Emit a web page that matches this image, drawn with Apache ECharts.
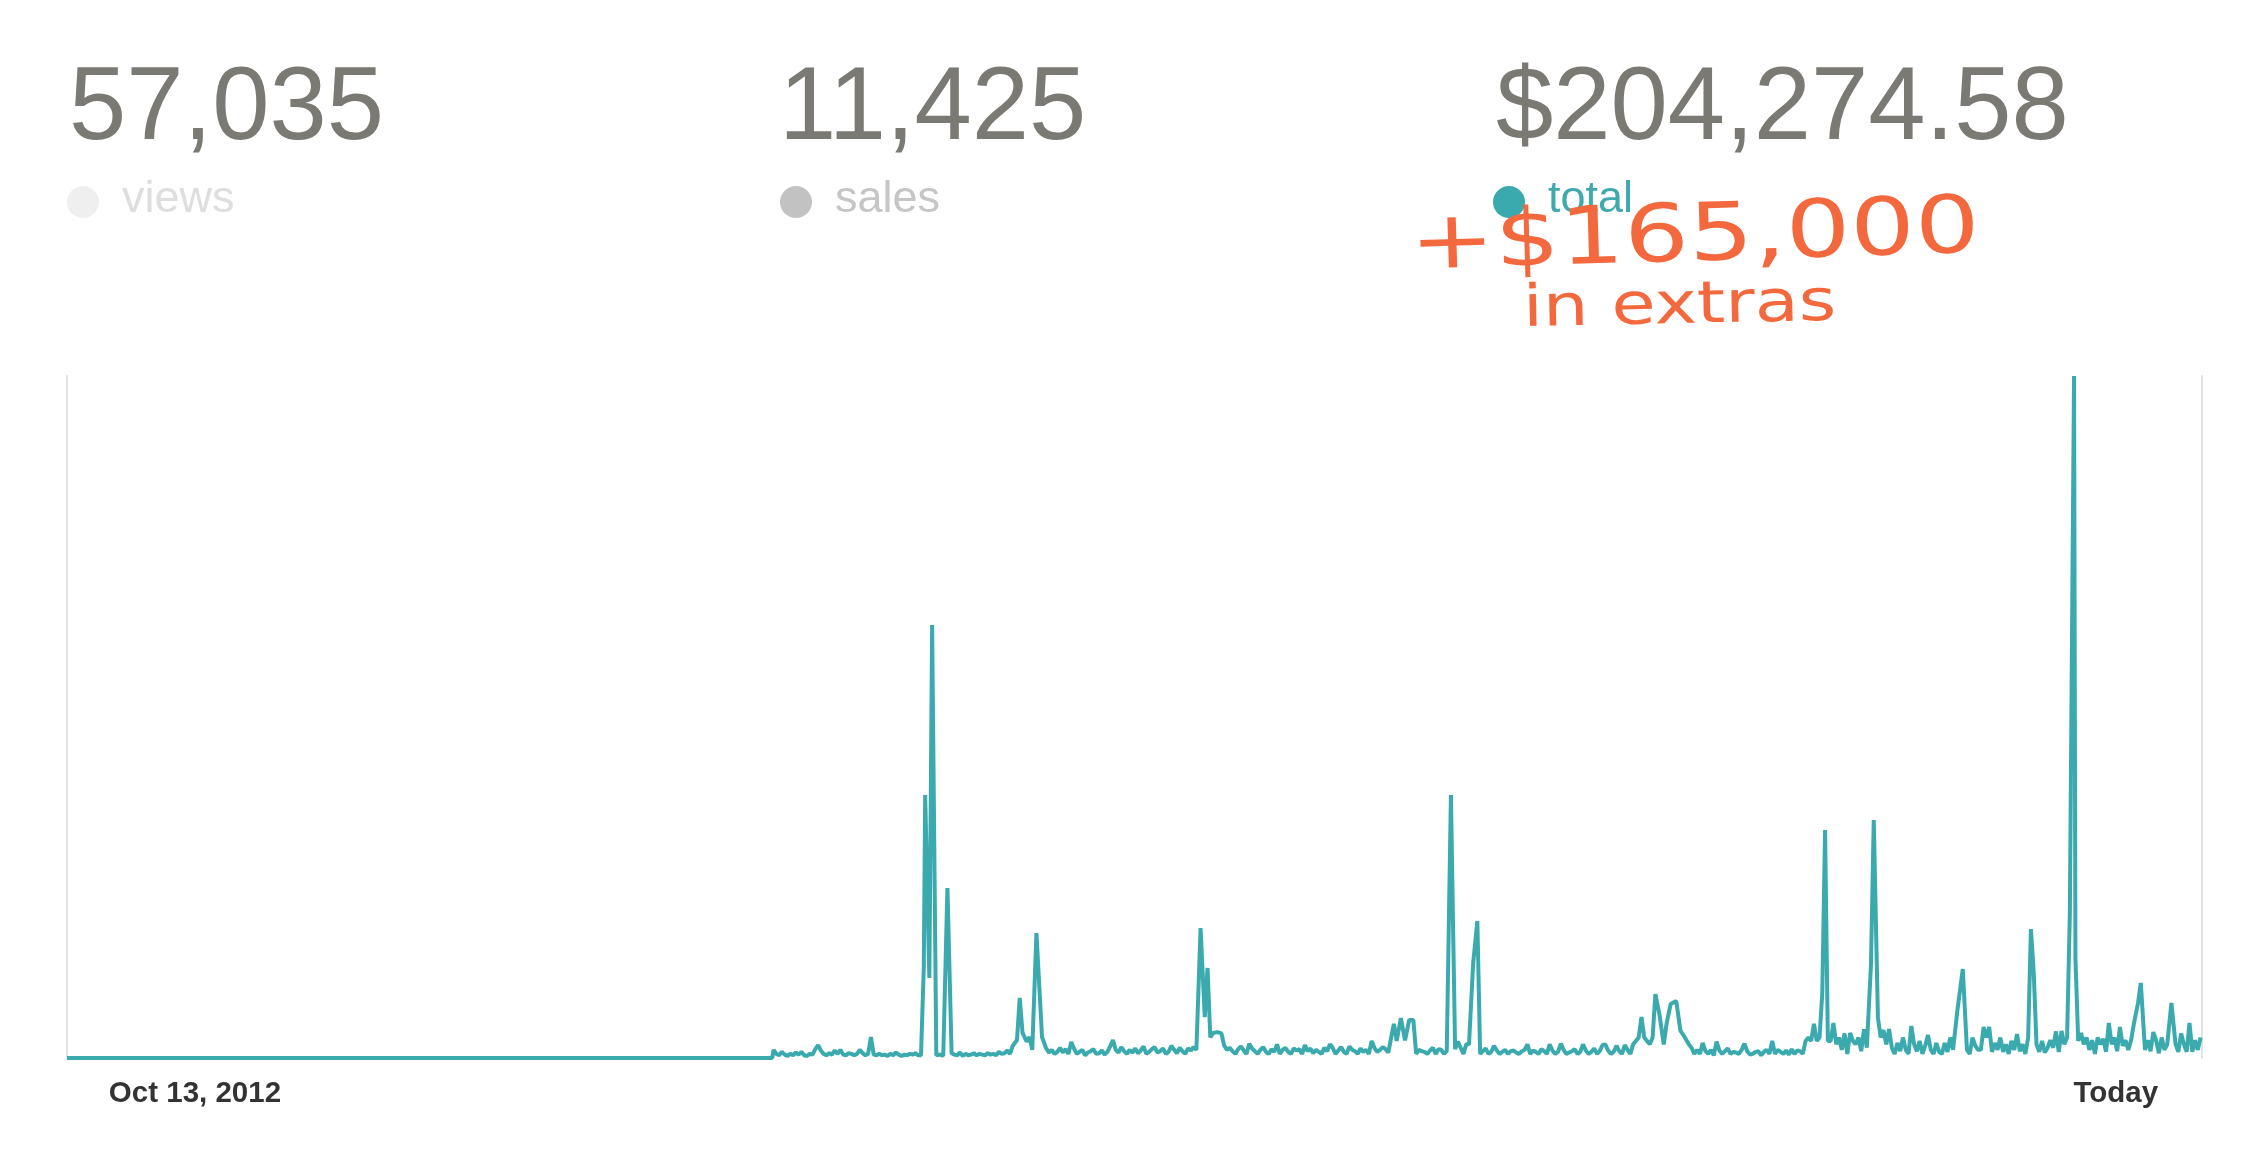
<!DOCTYPE html>
<html>
<head>
<meta charset="utf-8">
<script src="https://cdn.jsdelivr.net/npm/echarts@6/dist/echarts.min.js"></script>
<style>
html,body{margin:0;padding:0;background:#fff;}
#chart{width:2249px;height:1155px;}
</style>
</head>
<body>
<div id="chart"></div>
<script>
// ---- data ----
const headlineValues = ['57,035', '11,425', '$204,274.58'];
const legendNames = ['views', 'sales', 'total'];
const tickLabels = ['Oct 13, 2012', 'Today'];
const tickDays = [92, 1473];
const totalDays = 1535;

const flatDays = [0, 507];
const flatTotals = [0, 0];

const noiseStart = 508;
const noiseStep = 2;
const noiseTotals = [
  120, 60, 40, 90, 50, 30, 60, 40, 80, 50, 90, 40, 30, 60, 50, 130, 190, 110, 60, 40,
  70, 50, 110, 60, 120, 50, 40, 70, 60, 40, 60, 120, 70, 40, 60, 30, 50, 40, 60, 40,
  50, 30, 60, 40, 80, 50, 30, 50, 40, 60, 50, 70, 40, 40, 50, 40, 50, 50, 50, 40,
  50, 30, 60, 40, 70, 50, 40, 80, 30, 60, 40, 50, 70, 40, 60, 50, 40, 70, 50, 60,
  40, 90, 60, 70, 110, 60, 180, 220, 250, 150, 200, 240, 150, 120, 200, 140, 250, 200, 140, 80,
  120, 60, 90, 150, 80, 130, 60, 200, 140, 60, 90, 120, 40, 80, 100, 130, 60, 70, 110, 50,
  90, 170, 240, 120, 80, 150, 100, 60, 120, 80, 140, 70, 110, 170, 60, 90, 130, 160, 80, 100,
  140, 60, 90, 180, 120, 70, 150, 100, 60, 140, 110, 160, 120, 300, 400, 380, 360, 300, 350, 300,
  360, 200, 180, 120, 150, 100, 60, 130, 170, 110, 60, 210, 140, 100, 60, 120, 160, 90, 60, 130,
  90, 200, 60, 120, 150, 90, 60, 140, 110, 130, 60, 190, 100, 140, 70, 120, 90, 60, 150, 100,
  200, 150, 60, 110, 160, 90, 60, 170, 120, 100, 60, 140, 90, 120, 60, 250, 150, 90, 120, 160,
  130, 80, 300, 500, 250, 450, 500, 260, 400, 180, 140, 60, 120, 100, 90, 60, 110, 150, 60, 130,
  120, 60, 100, 140, 200, 130, 240, 150, 60, 200, 200, 200, 200, 120, 60, 100, 140, 60, 90, 180,
  110, 60, 90, 120, 60, 100, 110, 80, 60, 100, 120, 200, 60, 110, 90, 60, 130, 100, 60, 200,
  110, 60, 90, 210, 120, 60, 80, 100, 130, 60, 90, 200, 110, 60, 90, 140, 60, 100, 190, 200,
  110, 60, 90, 180, 100, 60, 190, 120, 60, 200, 250, 300, 600, 300, 250, 200, 300, 250, 400, 300,
  200, 500, 780, 400, 800, 500, 400, 300, 350, 200, 150, 60, 120, 60, 220, 100, 60, 120, 40, 240,
  110, 60, 100, 140, 60, 90, 80, 60, 120, 210, 100, 50, 60, 90, 100, 40, 90, 120, 60, 250,
  60, 120, 90, 60, 110, 50, 130, 60, 110, 100, 60, 250, 300, 250, 500, 250, 300, 360, 200, 250,
  250, 500, 200, 300, 120, 360, 60, 367, 250, 200, 300, 100, 420, 150, 60, 250, 300, 300, 300, 410,
  200, 425, 150, 60, 220, 100, 300, 120, 60, 469, 200, 100, 250, 60, 180, 337, 120, 60, 220, 90,
  60, 220, 90, 300, 120, 200, 674, 1300, 200, 120, 60, 300, 180, 120, 120, 455, 300, 455, 90, 220,
  120, 300, 90, 200, 60, 250, 120, 352, 100, 200, 60, 300, 300, 300, 200, 90, 250, 80, 150, 260,
  150, 390, 90, 396, 200, 300, 300, 300, 300, 250, 367, 200, 300, 120, 260, 60, 300, 200, 280, 90,
  513, 200, 300, 100, 455, 180, 260, 120, 260, 500, 300, 300, 300, 120, 260, 100, 381, 260, 70, 300,
  120, 200, 300, 300, 200, 90, 360, 200, 90, 513, 90, 260, 120, 300
];

const spikeDays = [
  578,
  616, 617, 618, 620, 622, 623, 625,
  633,
  683, 685, 687, 692, 697, 701,
  722, 752, 758,
  815, 818, 820, 824, 827, 830,
  959, 965, 968,
  995,
  1011, 1014,
  1142, 1145, 1153, 1157, 1163,
  1262, 1264, 1270,
  1297, 1299, 1302,
  1359, 1363,
  1412, 1414,
  1440, 1443, 1444,
  1489, 1491,
  1513
];
const spikeTotals = [
  308,
  1320, 3856, 3856, 1173, 6349, 6349, 40,
  2493,
  264, 880, 367, 308, 1833, 308,
  235, 264, 160,
  1906, 600, 1320, 367, 380, 360,
  586, 557, 557,
  3856,
  1393, 2009,
  938, 630, 792, 836, 308,
  953, 3343, 513,
  1364, 3490, 586,
  674, 1305,
  1891, 1261,
  2126, 10000, 1466,
  806, 1100,
  806
];

// ---- build series points ----
const points = [];
flatDays.forEach((d, i) => points.push([d, flatTotals[i]]));
noiseTotals.forEach((v, i) => {
  const d = noiseStart + i * noiseStep;
  if (!spikeDays.some(s => Math.abs(s - d) <= 1)) points.push([d, v]);
});
spikeDays.forEach((d, i) => points.push([d, spikeTotals[i]]));
points.sort((a, b) => a[0] - b[0]);

// ---- chart ----
const chart = echarts.init(document.getElementById('chart'), null, {renderer: 'canvas'});
const numFont = '"Liberation Sans", Arial, sans-serif';
const grayNum = '#7a7974';
const teal = '#3aaaae';
const legendColors = ['#efefef', '#c2c2c2', teal];
const legendTextColors = ['#dedede', '#c6c6c6', '#3fa9b0'];
const colX = [69, 779, 1496];
const circleX = [83, 796, 1509];

const graphics = [];
headlineValues.forEach((t, i) => {
  graphics.push({
    type: 'text', x: colX[i], y: 111,
    style: {text: t, fontSize: 103, fontFamily: numFont, fill: grayNum, align: 'left', verticalAlign: 'middle'}
  });
  graphics.push({
    type: 'circle', shape: {cx: circleX[i], cy: 202, r: 16},
    style: {fill: legendColors[i]}
  });
  graphics.push({
    type: 'text', x: circleX[i] + 39, y: 200,
    style: {text: legendNames[i], fontSize: 45, fontFamily: numFont, fill: legendTextColors[i], align: 'left', verticalAlign: 'middle'}
  });
});
// handwritten annotation
graphics.push({
  type: 'text', x: 1410, y: 248, rotation: 0.03, scaleX: 1.27, z: 100,
  style: {text: '+$165,000', fontSize: 80, fontFamily: '"DejaVu Sans", sans-serif', fill: '#f4683e', align: 'left', verticalAlign: 'middle'}
});
graphics.push({
  type: 'text', x: 1523, y: 311, rotation: 0.02, scaleX: 1.24, z: 100,
  style: {text: 'in extras', fontSize: 58, fontFamily: '"DejaVu Sans", sans-serif', fill: '#f4683e', align: 'left', verticalAlign: 'middle'}
});

const yAxisBase = {
  type: 'value', min: 0, max: 10000,
  axisLine: {show: true, lineStyle: {color: '#e3e3e3', width: 2}},
  axisTick: {show: false}, axisLabel: {show: false}, splitLine: {show: false}
};

chart.setOption({
  animation: false,
  backgroundColor: '#ffffff',
  grid: {left: 67, right: 47, top: 376, bottom: 97, containLabel: false},
  xAxis: {
    type: 'value', min: 0, max: totalDays,
    axisLine: {show: false}, axisTick: {show: false}, splitLine: {show: false},
    axisLabel: {
      customValues: tickDays,
      formatter: v => { const k = tickDays.indexOf(v); return k >= 0 ? tickLabels[k] : ''; },
      fontSize: 29.5, fontWeight: 'bold', color: '#333333', fontFamily: numFont, margin: 21
    }
  },
  yAxis: [
    Object.assign({}, yAxisBase, {position: 'left'}),
    Object.assign({}, yAxisBase, {position: 'right'})
  ],
  graphic: graphics,
  series: [{
    name: 'total', type: 'line', data: points, yAxisIndex: 0,
    symbol: 'none', showSymbol: false, sampling: null,
    lineStyle: {color: teal, width: 4},
    z: 5
  }]
});
</script>
</body>
</html>
